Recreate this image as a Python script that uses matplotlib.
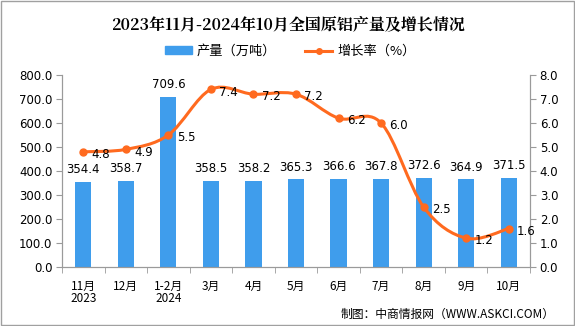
import matplotlib.pyplot as plt
from matplotlib.path import Path
from matplotlib.patches import PathPatch, Patch
from matplotlib.lines import Line2D
import numpy as np

plt.rcParams['font.family'] = ['DejaVu Sans', 'Noto Sans CJK SC']

# data
months = ['11月\n2023', '12月', '1-2月\n2024', '3月', '4月', '5月', '6月', '7月', '8月', '9月', '10月']
output = [354.4, 358.7, 709.6, 358.5, 358.2, 365.3, 366.6, 367.8, 372.6, 364.9, 371.5]
growth = [4.8, 4.9, 5.5, 7.4, 7.2, 7.2, 6.2, 6.0, 2.5, 1.2, 1.6]

bar_color = '#3F9DEC'
line_color = '#FF6A1F'
axis_color = '#9A9A9A'
cjk = ['Noto Sans CJK SC', 'DejaVu Sans']

fig = plt.figure(figsize=(5.75, 3.26), dpi=100)
fig.patch.set_facecolor('white')
ax = fig.add_axes([0.1078, 0.181, 0.8139, 0.589])
ax2 = ax.twinx()

x = np.arange(len(months))
ax.bar(x, output, width=0.38, color=bar_color, zorder=2)
ax.set_xlim(-0.5, len(months) - 0.5)
ax.set_ylim(0, 800)
ax.set_yticks(np.arange(0, 801, 100))
ax.set_yticklabels([f'{v:.1f}' for v in np.arange(0, 801, 100)], fontsize=8.5)
ax.set_xticks(x)
ax.set_xticklabels(months, fontsize=8.5, family=cjk, linespacing=1.0)
ax.set_xticks(np.arange(-0.5, len(months)), minor=True)
ax.tick_params(axis='x', which='major', length=0, pad=9)
ax.tick_params(axis='x', which='minor', length=4, color=axis_color)
ax.tick_params(axis='y', length=4, color=axis_color, pad=3)

for i, v in enumerate(output):
    ax.annotate(f'{v:.1f}', (i, v), xytext=(0, 4), textcoords='offset points',
                ha='center', va='bottom', fontsize=8.5)

# smooth growth line as bezier segments through the points
ax2.set_ylim(0, 8)
ax2.set_yticks(np.arange(0, 9, 1))
ax2.set_yticklabels([f'{v:.1f}' for v in np.arange(0, 9, 1)], fontsize=8.5)
ax2.tick_params(axis='y', length=4, color=axis_color, pad=3)
pts = np.column_stack([x, growth]).astype(float)
verts = [pts[0]]
codes = [Path.MOVETO]
for i in range(len(pts) - 1):
    p0 = pts[max(i - 1, 0)]
    p1 = pts[i]
    p2 = pts[i + 1]
    p3 = pts[min(i + 2, len(pts) - 1)]
    c1 = p1 + (p2 - p0) / 6
    c2 = p2 - (p3 - p1) / 6
    verts += [c1, c2, p2]
    codes += [Path.CURVE4] * 3
ax2.add_patch(PathPatch(Path(verts, codes), fill=False, edgecolor=line_color, lw=2.2, zorder=3))
ax2.plot(x, growth, 'o', color=line_color, ms=5, zorder=4)
for i, v in enumerate(growth):
    ax2.annotate(f'{v:.1f}', (i, v), xytext=(6, -2), textcoords='offset points',
                 ha='left', va='center', fontsize=8.5)

for a in (ax, ax2):
    a.spines['top'].set_visible(False)
    for s in ('left', 'right', 'bottom'):
        a.spines[s].set_color(axis_color)
ax.set_zorder(1)
ax2.set_zorder(2)
ax.patch.set_visible(False)

fig.text(0.5, 0.926, '2023年11月-2024年10月全国原铝产量及增长情况', ha='center', va='center',
         fontsize=11.5, fontweight='bold', family=['Noto Serif CJK SC', 'Noto Sans CJK SC', 'DejaVu Sans'])

handles = [Patch(color=bar_color), Line2D([], [], color=line_color, lw=2.2, marker='o', ms=4)]
fig.legend(handles, ['产量（万吨）', '增长率（%）'], loc='center', bbox_to_anchor=(0.505, 0.842),
           ncol=2, frameon=False, prop={'family': cjk, 'size': 9.5},
           handlelength=2.0, handleheight=0.55, columnspacing=2.2, handletextpad=0.4)

fig.text(0.965, 0.035, '制图：中商情报网（WWW.ASKCI.COM）', ha='right', va='center',
         fontsize=8.5, family=cjk)

border = plt.Rectangle((0.001, 0.002), 0.997, 0.995, transform=fig.transFigure,
                       fill=False, edgecolor='#A0A0A0', lw=1)
fig.add_artist(border)

fig.savefig('out.png', dpi=100)
